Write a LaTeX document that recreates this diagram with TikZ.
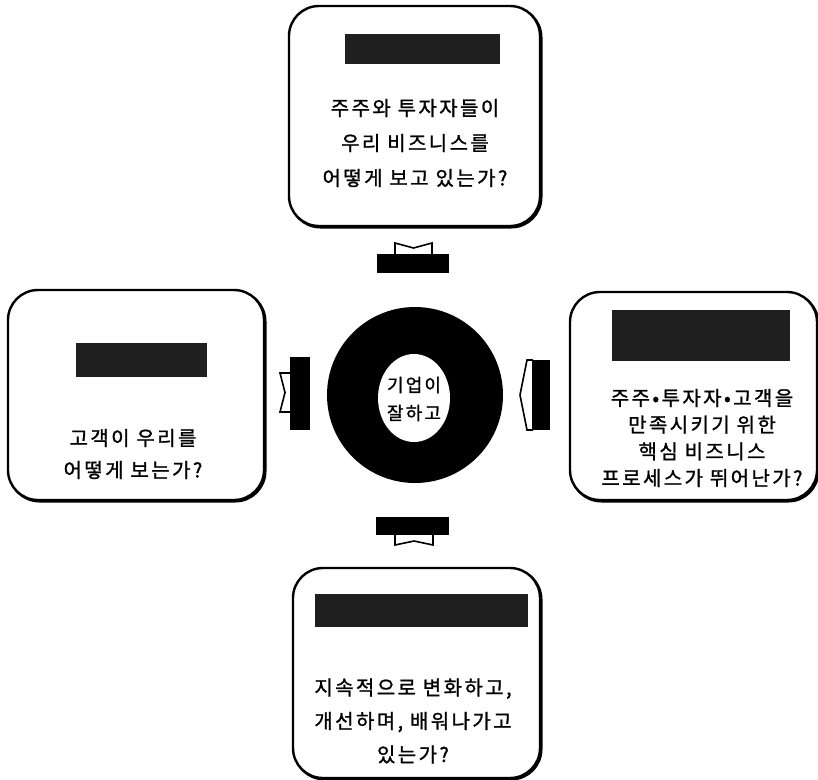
\documentclass[tikz,border=0pt]{standalone}
\usepackage{fontspec}
\setmainfont{Noto Sans CJK KR}[LetterSpace=12,FakeBold=1.2]
\begin{document}
\begin{tikzpicture}[x=1pt,y=-1pt,
  box/.style={draw=black, line width=2.4pt, rounded corners=30pt, fill=white, inner sep=0pt},
  shadowbox/.style={draw=black, line width=2.4pt, rounded corners=30pt, inner sep=0pt},
  hdr/.style={fill=black!88, draw=none},
  txt/.style={align=center, inner sep=0pt},
  tabshape/.style={draw=black, line width=1.6pt, fill=white, line join=miter},
  blk/.style={fill=black}]
\useasboundingbox (0,0) rectangle (818,779);
% shadows
\node[shadowbox, minimum width=251pt, minimum height=220pt] at (415.8,117.3) {};
\node[shadowbox, minimum width=256pt, minimum height=210pt] at (137.3,396.3) {};
\node[shadowbox, minimum width=247pt, minimum height=208pt] at (694.8,397.3) {};
\node[shadowbox, minimum width=247pt, minimum height=210pt] at (417.8,674.3) {};
% boxes
\node[box, minimum width=251pt, minimum height=220pt] (top) at (414.5,116) {};
\node[box, minimum width=256pt, minimum height=210pt] (left) at (136,395) {};
\node[box, minimum width=247pt, minimum height=208pt] (right) at (693.5,396) {};
\node[box, minimum width=247pt, minimum height=210pt] (bottom) at (416.5,673) {};
% header bars
\fill[hdr] (345,34) rectangle (500,64);
\fill[hdr] (76,343) rectangle (207,377);
\fill[hdr] (612,310) rectangle (790,361);
\fill[hdr] (315,594) rectangle (528,627);
% texts
\node[txt, font=\fontsize{20}{35}\selectfont] (ttop) at (415,143) {주주와 투자자들이\\우리 비즈니스를\\어떻게 보고 있는가?};
\node[txt, font=\fontsize{20}{32}\selectfont] (tleft) at (133,454) {고객이 우리를\\어떻게 보는가?};
\node[txt, font=\fontsize{20}{26.7}\selectfont] (tright) at (702,438) {주주•투자자•고객을\\만족시키기 위한\\핵심 비즈니스\\프로세스가 뛰어난가?};
\node[txt, font=\fontsize{20}{33.5}\selectfont] (tbottom) at (413,721) {지속적으로 변화하고,\\개선하며, 배워나가고\\있는가?};
% center
\node[circle, fill=black, minimum size=176pt, inner sep=0pt] (c) at (415,395) {};
\fill[white] (414,398) ellipse [x radius=36pt, y radius=44pt];
\node[txt, font=\fontsize{18}{28}\selectfont] (ctext) at (414,399) {기업이\\잘하고};
% connectors: top
\draw[tabshape] (395,255) -- (395,243) -- (413.5,248) -- (432,243) -- (432,255);
\fill[blk] (377,254) rectangle (449,273);
% bottom
\draw[tabshape] (395,534) -- (395,545) -- (414,541) -- (433,545) -- (433,534);
\fill[blk] (376,517) rectangle (449,535);
% left
\draw[tabshape] (291,373) -- (280,373) -- (285,392.5) -- (280,412) -- (291,412);
\fill[blk] (290,357) rectangle (310,430);
% right
\draw[tabshape] (533,360) -- (527,360) -- (520,395) -- (527,430) -- (533,430);
\fill[blk] (532,360) rectangle (550,430);
\end{tikzpicture}
\end{document}
